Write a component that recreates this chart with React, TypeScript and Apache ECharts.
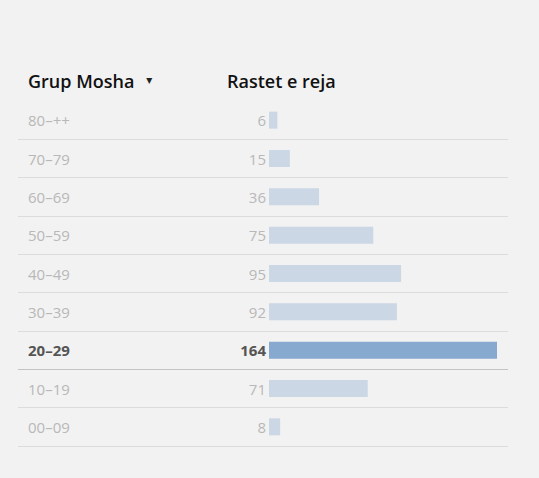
import React, { useEffect, useRef } from "react";
import * as echarts from "echarts";

const categories = ["80–++", "70–79", "60–69", "50–59", "40–49", "30–39", "20–29", "10–19", "00–09"];
const values = [6, 15, 36, 75, 95, 92, 164, 71, 8];
const highlightIndex = 6;
const headerLeft = "Grup Mosha";
const headerRight = "Rastet e reja";

const FONT = "'Open Sans', 'Noto Sans', sans-serif";

export default function App() {
  const ref = useRef<HTMLDivElement>(null);
  useEffect(() => {
    document.body.style.margin = "0";
    document.body.style.background = "#f2f2f2";
    const chart = echarts.init(ref.current!, null, { renderer: "svg" });
    const lineColors = categories.map(() => "#dcdcdc");
    lineColors.push("#dcdcdc");
    lineColors[0] = "rgba(0,0,0,0)";
    lineColors[highlightIndex + 1] = "#c4c4c4";
    chart.setOption({
      animation: false,
      backgroundColor: "#f2f2f2",
      textStyle: { fontFamily: FONT },
      graphic: [
        {
          type: "text",
          left: 28,
          top: 72,
          style: {
            text: `{h|${headerLeft}}{t|▾}`,
            rich: {
              h: { fontSize: 18, fontWeight: 600, fill: "#111", fontFamily: FONT },
              t: { fontSize: 12, fill: "#222", fontFamily: "'DejaVu Sans', sans-serif", padding: [0, 0, 2, 12] },
            },
          },
        },
        {
          type: "text",
          left: 227,
          top: 72,
          style: { text: headerRight, fontSize: 18, fontWeight: 600, fill: "#111", fontFamily: FONT },
        },
      ],
      grid: [
        { left: 269, right: 42, top: 101, bottom: 32 },
        { left: 18, right: 31, top: 101, bottom: 32 },
      ],
      xAxis: [
        { type: "value", gridIndex: 0, min: 0, max: 164, show: false },
        { type: "value", gridIndex: 1, min: 0, max: 1, show: false },
      ],
      yAxis: [
        {
          type: "category",
          gridIndex: 0,
          data: categories,
          inverse: true,
          axisLine: { show: false },
          axisTick: { show: false },
          splitLine: { show: false },
          axisLabel: {
            align: "left",
            margin: 241,
            fontFamily: FONT,
            formatter: (v: string, i: number) => (i === highlightIndex ? `{b|${v}}` : `{n|${v}}`),
            rich: {
              n: { fontSize: 15, color: "#b8b8b8", fontFamily: FONT },
              b: { fontSize: 15, color: "#555", fontWeight: 700, fontFamily: FONT },
            },
          },
        },
        {
          type: "category",
          gridIndex: 1,
          data: categories,
          inverse: true,
          axisLine: { show: false },
          axisTick: { show: false },
          axisLabel: { show: false },
          splitLine: { show: true, lineStyle: { color: lineColors, width: 1 } },
        },
      ],
      series: [
        {
          type: "bar",
          xAxisIndex: 0,
          yAxisIndex: 0,
          barWidth: 17,
          data: values.map((v, i) => ({
            value: v,
            itemStyle: { color: i === highlightIndex ? "#88a9cf" : "#cbd7e4" },
            label: i === highlightIndex
              ? { color: "#555", fontWeight: 700 }
              : { color: "#b8b8b8", fontWeight: 400 },
          })),
          label: {
            show: true,
            position: "left",
            distance: 3,
            fontSize: 15,
            fontFamily: FONT,
          },
        },
      ],
    });
    return () => chart.dispose();
  }, []);
  return <div ref={ref} style={{ width: 539, height: 478 }} />;
}
